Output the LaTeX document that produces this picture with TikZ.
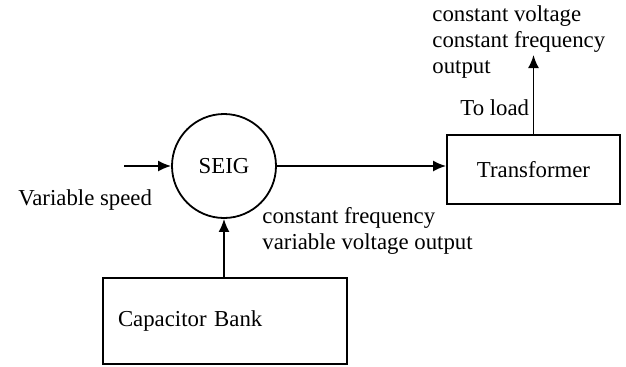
\documentclass[tikz,border=0pt]{standalone}
\usepackage{fontspec}
\setmainfont{Liberation Serif}
\usepackage{tikz}
\usetikzlibrary{arrows.meta,shapes.geometric}

\begin{document}
\begin{tikzpicture}[x=0.5pt,y=-0.5pt,>={Latex[length=6.5pt,width=5.5pt]},
  every node/.style={font=\fontsize{11.4}{13}\selectfont},
  bloque/.style={draw,rectangle,line width=0.9pt,inner sep=0pt},
  etiqueta/.style={inner sep=0pt,align=left,anchor=west},
  linea/.style={line width=0.9pt}]
  % Marco de la figura
  \useasboundingbox (0,0) rectangle (626,366);

  % Generador SEIG
  \node[draw,circle,line width=0.9pt,minimum size=52pt,inner sep=0pt] (seig) at (224,166) {SEIG};

  % Transformador y banco de condensadores
  \node[bloque,minimum width=86.5pt,minimum height=34.5pt] (trafo) at (533.5,169.5) {Transformer};
  \node[bloque,minimum width=122pt,minimum height=43pt,text width=107pt,inner xsep=7.5pt,align=left] (banco) at (225,321) {Capacitor Bank};

  % Extremos libres de las flechas
  \coordinate (entrada) at (124,166);
  \coordinate (carga) at (533.5,55);

  % Conexiones
  \draw[linea,->] (entrada) -- (seig.west);
  \draw[linea,->] (seig.east) -- (seig.east -| trafo.west);
  \draw[linea,->] (seig.south |- banco.north) -- (seig.south);
  \draw[linea,->] (trafo.north) -- (carga);

  % Etiquetas
  \node[etiqueta] (velocidad) at (18,200) {Variable speed};
  \node[etiqueta] (salidagen) at (262,230.5) {constant frequency\\variable voltage output};
  \node[etiqueta] (aload) at (460,108) {To load};
  \node[etiqueta] (salidatrafo) at (432,42) {constant voltage\\constant frequency\\output};
\end{tikzpicture}
\end{document}
